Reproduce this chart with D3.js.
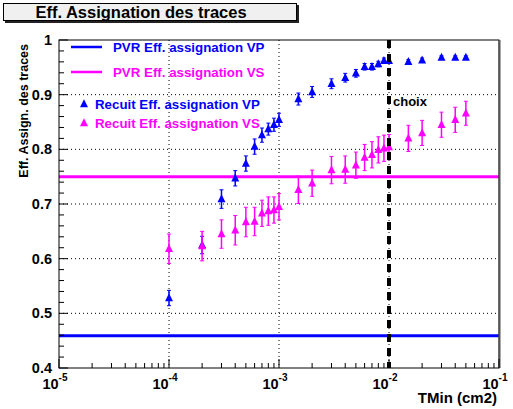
<!DOCTYPE html>
<html><head><meta charset="utf-8">
<script src="https://cdn.jsdelivr.net/npm/d3@7"></script>
<style>body{margin:0;background:#fff}svg{display:block;font-family:"Liberation Sans",Arial,sans-serif;font-weight:bold}</style>
</head><body>
<script>
const tmin = [1e-4,2e-4,3e-4,4e-4,5e-4,6e-4,7e-4,8e-4,9e-4,1e-3,1.5e-3,2e-3,3e-3,4e-3,5e-3,6e-3,7e-3,8e-3,9e-3,1e-2,1.5e-2,2e-2,3e-2,4e-2,5e-2];
const recuitVP = [0.528,0.625,0.709,0.747,0.774,0.805,0.826,0.837,0.845,0.854,0.892,0.905,0.920,0.931,0.939,0.951,0.951,0.956,0.962,0.962,0.960,0.963,0.968,0.968,0.968];
const recuitVPErr = [0.014,0.016,0.017,0.014,0.014,0.014,0.013,0.011,0.012,0.012,0.011,0.010,0.009,0.008,0.007,0.006,0.006,0.005,0.005,0.005,0.004,0.004,0.003,0.003,0.003];
const recuitVS = [0.618,0.623,0.645,0.652,0.667,0.668,0.683,0.687,0.689,0.695,0.726,0.738,0.762,0.763,0.771,0.785,0.790,0.799,0.802,0.804,0.820,0.830,0.845,0.854,0.866];
const recuitVSErr = [0.027,0.027,0.026,0.027,0.027,0.026,0.024,0.026,0.024,0.024,0.025,0.024,0.025,0.025,0.024,0.024,0.024,0.024,0.024,0.023,0.024,0.023,0.023,0.023,0.022];
const pvrVP = 0.459;
const pvrVS = 0.75;
const choix = 1e-2;
const xDecades = [-5,-4,-3,-2,-1];
const yTicks = [0.4,0.5,0.6,0.7,0.8,0.9,1];
const legendLabels = ["PVR Eff. assignation VP","PVR Eff. assignation VS","Recuit Eff. assignation VP","Recuit Eff. assignation VS"];
const title = "Eff. Assignation des traces";
const blue = "#0000ff", mag = "#ff00ff";

const W=513,H=409;
const L=59,R=499,T=40,B=368;
const svg = d3.select("body").append("svg").attr("width",W).attr("height",H);
const x = d3.scaleLog().domain([1e-5,1e-1]).range([L,R]);
const y = d3.scaleLinear().domain([0.4,1]).range([B,T]);

// grid
const g = svg.append("g");
xDecades.slice(1,-1).forEach(e=>{
  g.append("line").attr("x1",x(Math.pow(10,e))).attr("x2",x(Math.pow(10,e))).attr("y1",T).attr("y2",B)
   .attr("stroke","#000").attr("stroke-width",1).attr("stroke-dasharray","1,3");
});
yTicks.slice(1,-1).forEach(v=>{
  g.append("line").attr("x1",L).attr("x2",R).attr("y1",y(v)).attr("y2",y(v))
   .attr("stroke","#000").attr("stroke-width",1).attr("stroke-dasharray","1,3");
});

// reference lines
svg.append("line").attr("x1",L).attr("x2",R).attr("y1",y(pvrVS)).attr("y2",y(pvrVS)).attr("stroke",mag).attr("stroke-width",3);
svg.append("line").attr("x1",L).attr("x2",R).attr("y1",y(pvrVP)).attr("y2",y(pvrVP)).attr("stroke",blue).attr("stroke-width",3);

function tri(cx,cy,s){return `M${cx},${cy-s*0.6}L${cx+s/2},${cy+s*0.4}L${cx-s/2},${cy+s*0.4}Z`;}
function series(vals,errs,col){
  const gg = svg.append("g");
  tmin.forEach((t,i)=>{
    const cx=x(t), y1=y(vals[i]-errs[i]), y2=y(vals[i]+errs[i]);
    gg.append("line").attr("x1",cx).attr("x2",cx).attr("y1",y1).attr("y2",y2).attr("stroke",col).attr("stroke-width",1.5);
    gg.append("line").attr("x1",cx-2).attr("x2",cx+2).attr("y1",y1).attr("y2",y1).attr("stroke",col).attr("stroke-width",1);
    gg.append("line").attr("x1",cx-2).attr("x2",cx+2).attr("y1",y2).attr("y2",y2).attr("stroke",col).attr("stroke-width",1);
    gg.append("path").attr("d",tri(cx,y(vals[i]),8)).attr("fill",col);
  });
}
series(recuitVP,recuitVPErr,blue);
series(recuitVS,recuitVSErr,mag);

// choix vertical line
svg.append("line").attr("x1",x(choix)).attr("x2",x(choix)).attr("y1",T).attr("y2",B)
  .attr("stroke","#000").attr("stroke-width",4).attr("stroke-dasharray","8,6");
svg.append("text").attr("x",x(choix)+4).attr("y",y(0.9)+11).attr("font-size",13).text("choix");

// frame
svg.append("rect").attr("x",L).attr("y",T).attr("width",R-L).attr("height",B-T).attr("fill","none").attr("stroke","#000").attr("stroke-width",1);
svg.append("line").attr("x1",R+0.5).attr("x2",R+0.5).attr("y1",T).attr("y2",B).attr("stroke","#555").attr("stroke-width",2);

// y ticks
for(let v=0.4;v<=1.0001;v+=0.02){
  const major = Math.abs(v*10-Math.round(v*10))<1e-6;
  svg.append("line").attr("x1",L).attr("x2",L+(major?9:5)).attr("y1",y(v)).attr("y2",y(v)).attr("stroke","#000");
}
yTicks.forEach(v=>{
  svg.append("text").attr("x",L-7).attr("y",y(v)+5).attr("text-anchor","end").attr("font-size",14.5).text(d3.format("")(+v.toFixed(1)));
});
// x ticks
xDecades.forEach((e,k)=>{
  const d=Math.pow(10,e);
  svg.append("line").attr("x1",x(d)).attr("x2",x(d)).attr("y1",B).attr("y2",B-9).attr("stroke","#000");
  if(k<xDecades.length-1){
    for(let m=2;m<=9;m++){
      svg.append("line").attr("x1",x(d*m)).attr("x2",x(d*m)).attr("y1",B).attr("y2",B-5).attr("stroke","#000");
    }
  }
  const t=svg.append("text").attr("x",x(d)-4).attr("y",B+21).attr("text-anchor","middle").attr("font-size",14.5);
  t.append("tspan").text("10");
  t.append("tspan").attr("dy",-8).attr("font-size",10).text(String(e));
});
svg.append("text").attr("x",R-2).attr("y",B+35).attr("text-anchor","end").attr("font-size",15).text("TMin (cm2)");
svg.append("text").attr("transform",`translate(${28},${T+4}) rotate(-90)`).attr("text-anchor","end").attr("font-size",12.5).text("Eff. Assign. des traces");

// legend
const lg = svg.append("g");
const ly=[47,72,104,123];
lg.append("line").attr("x1",71).attr("x2",102).attr("y1",ly[0]).attr("y2",ly[0]).attr("stroke",blue).attr("stroke-width",2.5);
lg.append("line").attr("x1",71).attr("x2",102).attr("y1",ly[1]).attr("y2",ly[1]).attr("stroke",mag).attr("stroke-width",2.5);
lg.append("path").attr("d",tri(84,ly[2],8)).attr("fill",blue);
lg.append("path").attr("d",tri(84,ly[3],8)).attr("fill",mag);
const lx=[113,113,95,95], lc=[blue,mag,blue,mag];
legendLabels.forEach((s,i)=>{
  lg.append("text").attr("x",lx[i]).attr("y",ly[i]+4.5).attr("font-size",13.3).attr("fill",lc[i]).text(s);
});

// title box
svg.append("rect").attr("x",5).attr("y",5).attr("width",294).attr("height",18).attr("fill","#222");
svg.append("rect").attr("x",3.5).attr("y",3.5).attr("width",293).attr("height",17).attr("fill","#f0f0f0").attr("stroke","#000").attr("stroke-width",1);
svg.append("text").attr("x",141).attr("y",18).attr("text-anchor","middle").attr("font-size",16.5).text(title);
</script>
</body></html>
